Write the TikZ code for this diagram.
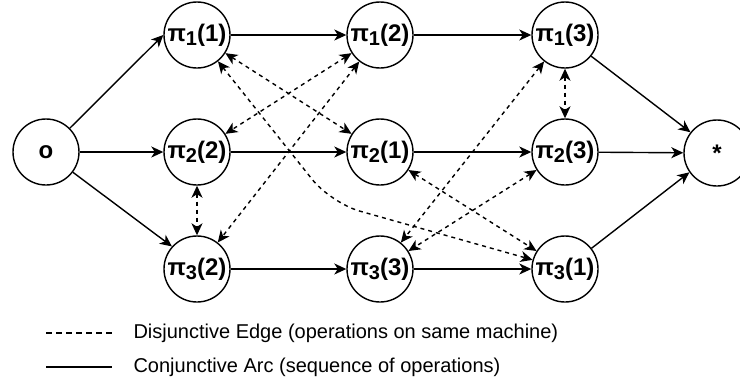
\documentclass[tikz,border=0pt]{standalone}
\usepackage{fontspec}
\setmainfont{Liberation Sans}
\usetikzlibrary{arrows.meta}

\newcommand{\opsub}[1]{\raisebox{-4pt}{\fontsize{20}{20}\selectfont #1}}

\tikzset{
  op/.style={draw, circle, line width=1.4pt, minimum size=66pt, inner sep=0pt,
             font=\fontsize{24}{28}\selectfont\bfseries},
  conj/.style={line width=1.4pt, -{Stealth[length=12pt,width=11pt,inset=3.5pt]}},
  disj/.style={line width=1.4pt, dash pattern=on 4pt off 4pt,
               {Stealth[length=12pt,width=11pt,inset=3.5pt]}-{Stealth[length=12pt,width=11pt,inset=3.5pt]}},
}

\begin{document}
\begin{tikzpicture}[x=1pt,y=-1pt]
                \useasboundingbox (0,0) rectangle (740,383);

                %% operations
                \node[op] (o)    at (46,152)  {o};
                \node[op] (a11)  at (197,35)  {π\opsub{1}(1)};
                \node[op] (a22)  at (197,152) {π\opsub{2}(2)};
                \node[op] (a32)  at (197,269) {π\opsub{3}(2)};
                \node[op] (a12)  at (380,35)  {π\opsub{1}(2)};
                \node[op] (a21)  at (380,152) {π\opsub{2}(1)};
                \node[op] (a33)  at (380,269) {π\opsub{3}(3)};
                \node[op] (a13)  at (565,35)  {π\opsub{1}(3)};
                \node[op] (a23)  at (565,152) {π\opsub{2}(3)};
                \node[op] (a31)  at (565,269) {π\opsub{3}(1)};
                \node[op] (star) at (717,153) {*};

                %% conjunctive arcs
                \draw[conj] (o.45) -- (a11.west);
                \draw[conj] (o) -- (a22);
                \draw[conj] (o.-37) -- (a32.138);

                \draw[conj] (a11) -- (a12);
                \draw[conj] (a12) -- (a13);
                \draw[conj] (a22) -- (a21);
                \draw[conj] (a21) -- (a23);
                \draw[conj] (a32) -- (a33);
                \draw[conj] (a33) -- (a31);

                \draw[conj] (a13.-39) -- (star.142);
                \draw[conj] (a23) -- (star);
                \draw[conj] (a31.38) -- (star.215);

                %% disjunctive edges
                \draw[disj] (a11) -- (a21);
                \draw[disj] (a12) -- (a22);
                \draw[disj] (a12) -- (a32);
                \draw[disj] (a22) -- (a32);
                \draw[disj] (a13) -- (a23);
                \draw[disj] (a13) -- (a33);
                \draw[disj] (a21) -- (a31);
                \draw[disj] (a23) -- (a33);

                % long edge machine 1 -> 3
                \coordinate (bend) at (331,203);
                \draw[disj, rounded corners=30pt] (a11) -- (bend) -- (a31);

                %% legend
                \draw[line width=1.2pt, dash pattern=on 6pt off 4pt] (46,333) -- (112,333);
                \draw[line width=1.2pt] (46,367) -- (112,367);
                \node[anchor=west, font=\fontsize{20}{24}\selectfont] (ldisj) at (130,333)
                    {Disjunctive Edge (operations on same machine)};
                \node[anchor=west, font=\fontsize{20}{24}\selectfont] (lconj) at (130,367)
                    {Conjunctive Arc (sequence of operations)};

\end{tikzpicture}
\end{document}
